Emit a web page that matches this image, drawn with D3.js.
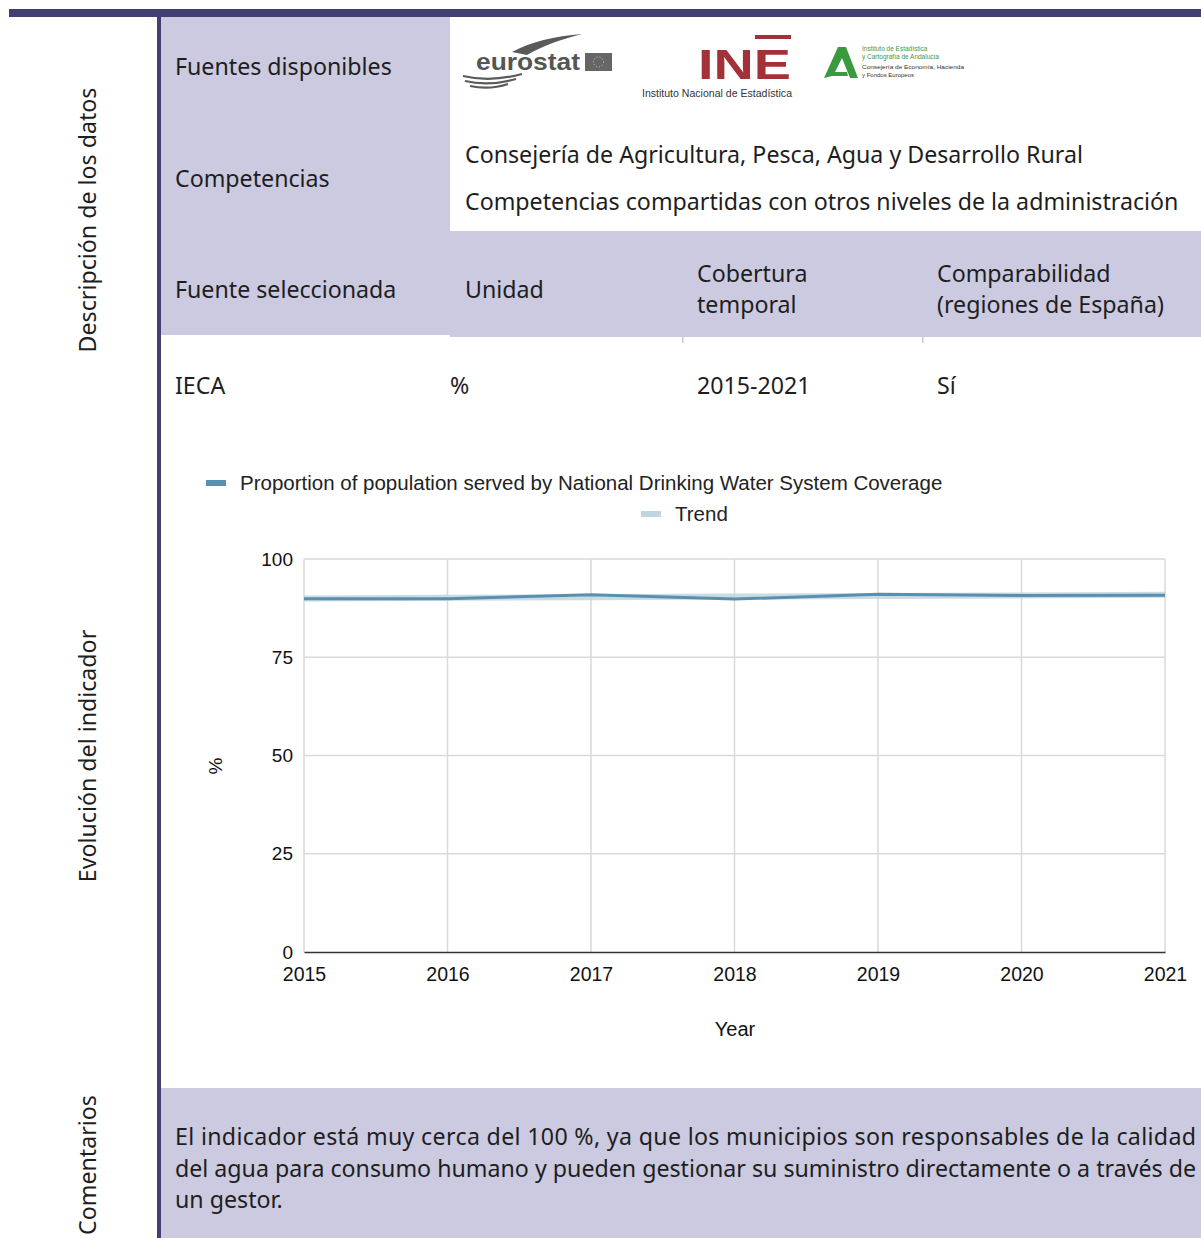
<!DOCTYPE html>
<html><head><meta charset="utf-8">
<script src="https://cdn.jsdelivr.net/npm/d3@7"></script>
<style>
body{margin:0;background:#fff;}
svg{display:block;}
</style></head>
<body><svg id="c" width="1201" height="1238"></svg>
<script>
// ---- data ----
const years = [2015, 2016, 2017, 2018, 2019, 2020, 2021];
const coverage = [89.9, 89.9, 90.9, 89.8, 91.0, 90.7, 90.8];
const trend = [89.96, 90.11, 90.27, 90.43, 90.59, 90.74, 90.90];
const yTicks = [0, 25, 50, 75, 100];
const seriesNames = ["Proportion of population served by National Drinking Water System Coverage", "Trend"];
const sideLabels = ["Descripción de los datos", "Evolución del indicador", "Comentarios"];
const headerLabels = ["Fuente seleccionada", "Unidad", ["Cobertura", "temporal"], ["Comparabilidad", "(regiones de España)"]];
const rowValues = ["IECA", "%", "2015-2021", "Sí"];
const competencias = ["Consejería de Agricultura, Pesca, Agua y Desarrollo Rural", "Competencias compartidas con otros niveles de la administración"];
const comment = ["El indicador está muy cerca del 100 %, ya que los municipios son responsables de la calidad", "del agua para consumo humano y pueden gestionar su suministro directamente o a través de", "un gestor."];

const svg = d3.select("#c");
const LAV = "#cbcae0", DARK = "#433f70", TXT = "#1e1e1e";
const TF = "'Noto Sans', sans-serif";
const CF = "'Liberation Sans', Arial, sans-serif";
const FS = 23.2;

// ---- frame ----
svg.append("rect").attr("x", 9).attr("y", 9).attr("width", 1192).attr("height", 8).attr("fill", DARK);
svg.append("rect").attr("x", 161).attr("y", 17).attr("width", 289).attr("height", 318).attr("fill", LAV);
svg.append("rect").attr("x", 450).attr("y", 231).attr("width", 751).attr("height", 106).attr("fill", LAV);
svg.append("rect").attr("x", 161).attr("y", 1088).attr("width", 1040).attr("height", 150).attr("fill", LAV);
svg.append("rect").attr("x", 157).attr("y", 17).attr("width", 4).attr("height", 1221).attr("fill", DARK);
[682, 922].forEach(x => svg.append("rect").attr("x", x).attr("y", 337).attr("width", 1.5).attr("height", 6).attr("fill", "#c9c9d6"));

// side labels
const sideY = [220, 756, 1165];
sideLabels.forEach((t, i) => {
  svg.append("text").attr("transform", `translate(96,${sideY[i]}) rotate(-90)`)
    .attr("text-anchor", "middle").attr("font-family", TF).attr("font-size", FS).attr("fill", TXT).text(t);
});

function txt(x, y, t, opts = {}) {
  return svg.append("text").attr("x", x).attr("y", y).attr("font-family", opts.f || TF)
    .attr("font-size", opts.s || FS).attr("fill", opts.c || TXT).attr("text-anchor", opts.a || "start").text(t);
}

txt(175, 75, "Fuentes disponibles");
txt(175, 187, "Competencias");
competencias.forEach((t, i) => txt(465, 163 + i * 47, t));

const colX = [175, 465, 697, 937];
headerLabels.forEach((h, i) => {
  if (Array.isArray(h)) h.forEach((l, j) => txt(colX[i], 282 + j * 31, l));
  else txt(colX[i], 298, h);
});
const valX = [175, 450, 697, 937];
rowValues.forEach((v, i) => txt(valX[i], 394, v));

comment.forEach((t, i) => {
  const el = txt(175, 1145 + i * 31.5, t);
  if (i < comment.length - 1) el.attr("textLength", 1021).attr("lengthAdjust", "spacing");
});

// ---- logos (simplified renditions) ----
const lg = svg.append("g");
lg.append("path").attr("d", "M512,52 C530,42 555,36 582,34 C562,39 542,46 527,55 Z").attr("fill", "#5a5a5a");
lg.append("path").attr("d", "M463,76 C480,80 500,80 522,74 M465,81 C482,85 498,84 516,79 M470,86 C484,89 496,88 508,84")
  .attr("stroke", "#5a5a5a").attr("fill", "none").attr("stroke-width", 2.2);
txt(476, 70, "eurostat", {f: CF, s: 24, c: "#555"}).attr("font-weight", "bold").attr("textLength", 104).attr("lengthAdjust", "spacingAndGlyphs");
lg.append("rect").attr("x", 585).attr("y", 53).attr("width", 27).attr("height", 18).attr("fill", "#666");
lg.append("circle").attr("cx", 598.5).attr("cy", 62).attr("r", 5).attr("fill", "none").attr("stroke", "#ccc").attr("stroke-dasharray", "1,2");
txt(698, 79, "INE", {f: CF, s: 43, c: "#a33137"}).attr("font-weight", "bold").attr("textLength", 93).attr("lengthAdjust", "spacingAndGlyphs");
lg.append("rect").attr("x", 755).attr("y", 35).attr("width", 36).attr("height", 4).attr("fill", "#a33137");
txt(642, 97, "Instituto Nacional de Estadística", {f: CF, s: 10.5, c: "#333"}).attr("textLength", 150).attr("lengthAdjust", "spacingAndGlyphs");
lg.append("path").attr("d", "M824,78 L838,47 L846,47 L858,78 L850,78 L842,58 L835,72 L847,72 L848,76 L832,76 Z").attr("fill", "#3a9a3d");
txt(862, 51, "Instituto de Estadística", {f: CF, s: 6.5, c: "#3a9a3d"});
txt(862, 59, "y Cartografía de Andalucía", {f: CF, s: 6.5, c: "#3a9a3d"});
txt(862, 69, "Consejería de Economía, Hacienda", {f: CF, s: 6, c: "#333"}).attr("textLength", 102).attr("lengthAdjust", "spacingAndGlyphs");
txt(862, 77, "y Fondos Europeos", {f: CF, s: 6, c: "#333"});

// ---- chart ----
const x = d3.scaleLinear().domain([years[0], years[years.length - 1]]).range([304, 1165]);
const y = d3.scaleLinear().domain([0, 100]).range([952, 559]);
const g = svg.append("g");

g.selectAll(".hg").data(yTicks.filter(d => d > 0)).join("line")
  .attr("x1", x.range()[0]).attr("x2", x.range()[1]).attr("y1", d => y(d)).attr("y2", d => y(d))
  .attr("stroke", "#d9d9d9").attr("stroke-width", 1.5);
g.selectAll(".vg").data(years).join("line")
  .attr("x1", d => x(d)).attr("x2", d => x(d)).attr("y1", y(100)).attr("y2", y(0))
  .attr("stroke", "#d9d9d9").attr("stroke-width", 1.5);

const xAxis = d3.axisBottom(x).tickValues(years).tickFormat(d3.format("d")).tickSize(0).tickPadding(15);
const xa = g.append("g").attr("transform", `translate(0,${y(0)})`).call(xAxis);
xa.select(".domain").attr("stroke", "#333").attr("stroke-width", 1.5);
xa.selectAll("text").attr("font-family", CF).attr("font-size", 19.5).attr("fill", "#111");

const yAxis = d3.axisLeft(y).tickValues(yTicks).tickSize(0).tickPadding(11);
const ya = g.append("g").attr("transform", `translate(${x.range()[0]},0)`).call(yAxis);
ya.select(".domain").remove();
ya.selectAll("text").attr("font-family", CF).attr("font-size", 19).attr("fill", "#111");

const line = d3.line().x((d, i) => x(years[i])).y(d => y(d));
g.append("path").datum(trend).attr("d", line).attr("fill", "none").attr("stroke", "#bfd5e1").attr("stroke-width", 6).attr("opacity", 0.85);
g.append("path").datum(coverage).attr("d", line).attr("fill", "none").attr("stroke", "#5a8fad").attr("stroke-width", 3);

// axis titles
svg.append("text").attr("transform", "translate(222,766) rotate(-90)").attr("text-anchor", "middle")
  .attr("font-family", CF).attr("font-size", 19).attr("fill", "#111").text("%");
txt(735, 1036, "Year", {f: CF, s: 20, c: "#111", a: "middle"});

// legend
const legColors = ["#5a8fad", "#bfd5e1"];
const legPos = [[206, 483], [641, 514]];
seriesNames.forEach((n, i) => {
  svg.append("rect").attr("x", legPos[i][0]).attr("y", legPos[i][1] - 3).attr("width", 20).attr("height", 6).attr("fill", legColors[i]);
  txt(legPos[i][0] + 34, legPos[i][1] + 7, n, {f: CF, s: 20.5, c: "#222"});
});
</script></body></html>
